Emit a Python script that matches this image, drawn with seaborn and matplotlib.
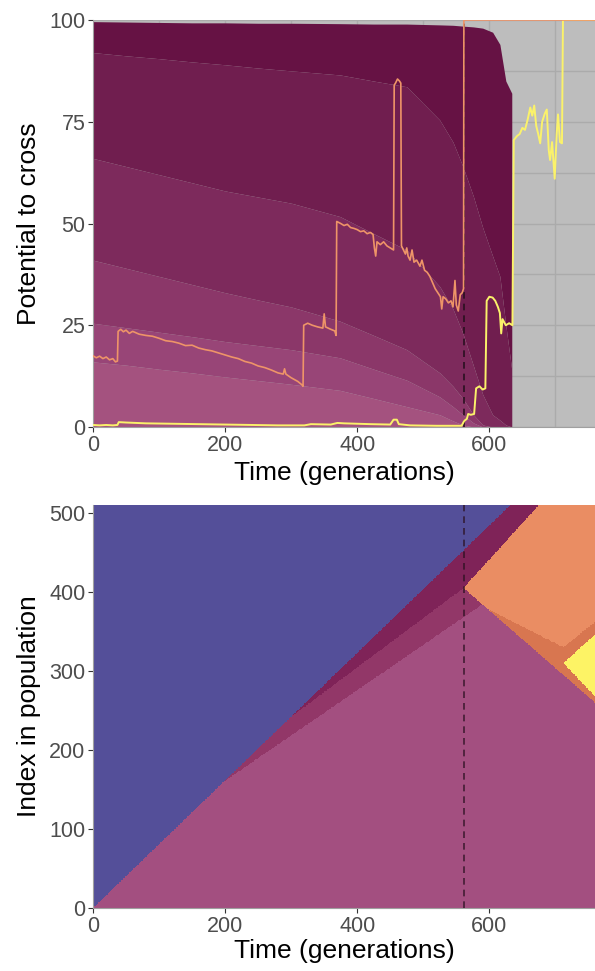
import numpy as np
import pandas as pd
import matplotlib
matplotlib.use("Agg")
import matplotlib.pyplot as plt
from matplotlib.colors import ListedColormap
import seaborn as sns

# ---------------- data: top panel (stacked bands) ----------------
band_gen = [0, 50, 100, 150, 200, 250, 300, 374, 425, 475, 525, 545, 560, 576, 590, 605, 616, 625, 634]
band_b1 = [16, 15.2, 14.2, 13.3, 12.3, 11.4, 10.5, 9, 7, 5, 3, 1.5, 0.5, 0, 0, 0, 0, 0, 0]
band_b2 = [25.5, 24.4, 23.3, 22.2, 21, 20, 19, 17, 14.2, 11.5, 7.4, 5, 3, 1, 0, 0, 0, 0, 0]
band_b3 = [41, 39, 37, 35, 33, 31.2, 29.5, 26, 22.5, 19, 13.3, 10, 7, 3, 0.5, 0, 0, 0, 0]
band_b4 = [66, 64, 62, 60, 58, 56.5, 55, 51.7, 47.5, 43.5, 34.5, 29, 23, 15, 8, 3, 1.7, 0.5, 0]
band_b5 = [92, 91.2, 90.5, 89.7, 89, 88.2, 87.5, 86.5, 85, 83.6, 75.4, 70, 64, 56.6, 49, 42, 37, 25, 14]
band_top = [99.6, 99.5, 99.4, 99.3, 99.3, 99.2, 99.2, 99.1, 99, 99, 98.8, 98.7, 98.5, 98.3, 98, 97, 94, 85, 82]
band_colors = ["#a4527f", "#984577", "#8b3769", "#7d2a5c", "#701e4f", "#661244"]

# orange lineage line
orange_gen = [0, 5, 10, 15, 20, 25, 30, 34, 37, 38, 42, 46, 50, 55, 60, 70, 80, 90, 100, 110,
              120, 130, 140, 150, 160, 170, 180, 190, 200, 210, 220, 230, 240, 250, 260, 270,
              280, 288, 290, 292, 300, 310, 316, 318, 319, 325, 332, 340, 348, 350, 352, 360,
              366, 368, 369, 375, 380, 385, 390, 395, 400, 405, 410, 415, 420, 424, 426, 428,
              430, 435, 440, 445, 450, 455, 456, 458, 461, 464, 466, 467, 470, 473, 475, 477,
              480, 483, 486, 490, 495, 498, 502, 506, 510, 514, 518, 522, 526, 528, 530, 534,
              538, 542, 545, 548, 550, 553, 556, 559, 561, 561.5, 760]
orange_val = [17.5, 17.0, 17.4, 16.8, 17.2, 16.5, 16.8, 16.0, 16.2, 23.5, 24.0, 23.4, 23.8, 23.0,
              23.5, 22.8, 22.5, 22.3, 21.8, 21.2, 21.0, 20.6, 20.0, 20.1, 19.4, 19.0, 18.7, 18.2,
              17.7, 17.2, 16.8, 16.1, 15.7, 15.0, 14.6, 14.0, 13.3, 13.0, 14.3, 13.0, 12.1, 11.2,
              10.4, 10.0, 25.0, 25.5, 25.0, 24.6, 24.3, 27.8, 24.6, 24.0, 23.6, 22.5, 50.5, 50.0,
              49.5, 49.8, 49.0, 48.8, 48.5, 48.0, 48.2, 47.5, 47.8, 47.3, 44.0, 42.0, 45.5, 44.8,
              45.5, 44.5, 44.0, 43.5, 84.0, 84.5, 85.5, 85.0, 84.5, 44.5, 43.5, 42.5, 44.0, 42.0,
              41.0, 43.5, 40.5, 41.0, 39.5, 41.0, 38.5, 38.0, 37.0, 35.5, 34.0, 33.0, 32.0, 29.0,
              32.0, 31.5, 30.5, 31.0, 29.5, 36.0, 30.0, 28.5, 32.5, 33.0, 34.0, 100, 100]

# yellow lineage line
yellow_gen = [0, 10, 20, 30, 37, 39, 50, 80, 120, 160, 200, 240, 280, 320, 330, 360, 370, 380,
              420, 450, 455, 460, 463, 480, 520, 558, 562, 566, 568, 572, 577, 580, 585, 590,
              594, 596, 600, 605, 609, 613, 616, 618, 620, 625, 630, 635, 637, 642, 646, 650,
              654, 658, 662, 665, 668, 671, 674, 677, 680, 684, 687, 690, 692, 695, 699, 702,
              704, 707, 710, 711.5, 760]
yellow_val = [0.5, 0.4, 0.5, 0.4, 0.5, 1.2, 1.1, 0.9, 0.8, 0.7, 0.6, 0.5, 0.4, 0.4, 0.7, 0.6, 1.0,
              0.9, 0.7, 0.6, 1.8, 1.8, 0.7, 0.4, 0.3, 0.3, 1.5, 2.0, 3.2, 3.0, 3.2, 9.5, 10.0, 9.2,
              9.5, 31.0, 32.0, 31.8, 31.0, 29.5, 28.0, 23.0, 26.5, 25.0, 25.5, 25.0, 70.5, 71.5,
              72.0, 73.5, 73.0, 75.5, 78.5, 76.5, 79.0, 74.0, 72.0, 69.7, 75.0, 77.0, 78.0, 68.0,
              65.6, 70.0, 61.0, 72.0, 76.8, 70.0, 69.7, 100, 100]

event_gen = 561

# ---------------- data: bottom panel (lineage regions) ----------------
region_names = ["blue", "pink", "dark", "orange", "dark_orange", "yellow", "mid"]
region_colors = ["#544f99", "#a34f80", "#7f2358", "#ea8d63", "#d87650", "#fdf365", "#923768"]
blue_edge_pts = [(0, 0), (632, 510)]
dark_lower_pts = [(300, 242), (561, 405)]
mid_lower_pts = [(200, 161), (561, 368)]
orange_upper_pts = [(561, 405), (675, 510)]
orange_lower_pts = [(561, 405), (760, 260)]
dorange_upper_pts = [(601, 377), (712, 330), (760, 362)]
yellow_upper_pts = [(712, 310), (760, 346)]
yellow_lower_pts = [(712, 310), (760, 268)]

# ---------------- styling ----------------
sns.set_theme(style="white")
plt.rcParams["font.family"] = ["Liberation Sans", "DejaVu Sans"]

fig = plt.figure(figsize=(5.95, 9.71), dpi=100)
ax1 = fig.add_axes([93 / 595, 1 - 427 / 971, 502 / 595, 407 / 971])
ax2 = fig.add_axes([93 / 595, 1 - 908 / 971, 502 / 595, 403 / 971])

TICK_FS = 15.5
LAB_FS = 19

def style_axes(ax):
    for side in ["top", "right"]:
        ax.spines[side].set_visible(False)
    for side in ["left", "bottom"]:
        ax.spines[side].set_color("#a0a0a0")
        ax.spines[side].set_linewidth(0.8)
    ax.tick_params(axis="both", which="major", length=3.5, width=0.8, color="#333333",
                   labelsize=TICK_FS, labelcolor="#4d4d4d", pad=2, left=True, bottom=True)

# ---------------- top panel ----------------
ax1.set_facecolor("#bdbdbd")
ax1.set_xlim(0, 760)
ax1.set_ylim(0, 100)
ax1.set_xticks([0, 200, 400, 600])
ax1.set_yticks([0, 25, 50, 75, 100])
ax1.set_xticks([100, 300, 500, 700], minor=True)
ax1.set_yticks([12.5, 37.5, 62.5, 87.5], minor=True)
ax1.grid(True, which="both", color="#ababab", linewidth=1.0)
ax1.set_axisbelow(True)

bounds = [np.zeros(len(band_gen)), band_b1, band_b2, band_b3, band_b4, band_b5, band_top]
for i in range(6):
    ax1.fill_between(band_gen, bounds[i], bounds[i + 1], color=band_colors[i],
                     linewidth=0, zorder=2)

ax1.axvline(event_gen, color="#2a1020", linestyle=(0, (4, 3)), linewidth=1.2, zorder=3)

df_y = pd.DataFrame({"gen": yellow_gen, "val": yellow_val})
df_o = pd.DataFrame({"gen": orange_gen, "val": orange_val})
sns.lineplot(data=df_y, x="gen", y="val", ax=ax1, color="#fbf26a", linewidth=1.4,
             estimator=None, sort=False, zorder=4)
sns.lineplot(data=df_o, x="gen", y="val", ax=ax1, color="#ee9468", linewidth=1.2,
             estimator=None, sort=False, zorder=5)

ax1.set_xlabel("Time (generations)", fontsize=LAB_FS, color="black", labelpad=4)
ax1.set_ylabel("Potential to cross", fontsize=LAB_FS, color="black", labelpad=6)
style_axes(ax1)
ax1.tick_params(axis="both", which="minor", length=0)

# ---------------- bottom panel ----------------
G, I = np.meshgrid(np.arange(0, 761, 1.0) + 0.5, np.arange(0, 511, 1.0) + 0.5)

def line_val(pts, g):
    xs = [p[0] for p in pts]
    ys = [p[1] for p in pts]
    slope_l = (ys[1] - ys[0]) / (xs[1] - xs[0])
    slope_r = (ys[-1] - ys[-2]) / (xs[-1] - xs[-2])
    v = np.interp(g, xs, ys)
    v = np.where(g < xs[0], ys[0] + slope_l * (g - xs[0]), v)
    v = np.where(g > xs[-1], ys[-1] + slope_r * (g - xs[-1]), v)
    return v

cat = np.ones_like(G, dtype=int)  # pink default
blue_edge = line_val(blue_edge_pts, G)
cat[I > blue_edge] = 0
mid_low = line_val(mid_lower_pts, G)
cat[(I <= blue_edge) & (I > mid_low) & (G >= mid_lower_pts[0][0])] = 6
dark_low = line_val(dark_lower_pts, G)
cat[(I <= blue_edge) & (I > dark_low) & (G >= dark_lower_pts[0][0])] = 2
orange_mask = (G >= orange_upper_pts[0][0]) & (I < line_val(orange_upper_pts, G)) & \
              (I > line_val(orange_lower_pts, G))
cat[orange_mask] = 3
dor_mask = orange_mask & (G >= dorange_upper_pts[0][0]) & (I < line_val(dorange_upper_pts, G))
cat[dor_mask] = 4
yel_mask = (G >= yellow_upper_pts[0][0]) & (I < line_val(yellow_upper_pts, G)) & \
           (I > line_val(yellow_lower_pts, G))
cat[yel_mask] = 5

ax2.imshow(cat, origin="lower", extent=[0, 761, 0, 511], aspect="auto",
           cmap=ListedColormap(region_colors), vmin=-0.5, vmax=6.5, interpolation="nearest",
           zorder=1)
ax2.set_xlim(0, 760)
ax2.set_ylim(0, 510)
ax2.set_xticks([0, 200, 400, 600])
ax2.set_yticks([0, 100, 200, 300, 400, 500])
ax2.axvline(event_gen, color="#2a1020", linestyle=(0, (4, 3)), linewidth=1.2, alpha=0.8, zorder=3)
ax2.set_xlabel("Time (generations)", fontsize=LAB_FS, color="black", labelpad=2)
ax2.set_ylabel("Index in population", fontsize=LAB_FS, color="black", labelpad=6)
style_axes(ax2)

fig.savefig("out.png", dpi=100)
